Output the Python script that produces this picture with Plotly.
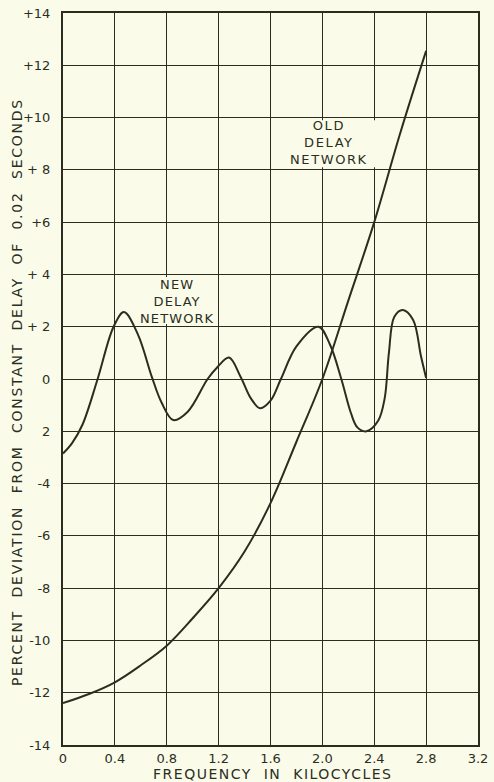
import plotly.graph_objects as go

# Old delay network (percent deviation vs frequency, kc)
old_freq = [0.0, 0.2, 0.4, 0.6, 0.8, 1.0, 1.2, 1.4, 1.6, 1.8, 2.0, 2.2, 2.4, 2.6, 2.8]
old_dev = [-12.4, -12.05, -11.6, -10.95, -10.2, -9.15, -8.0, -6.6, -4.75, -2.4, 0.0, 3.0, 6.0, 9.4, 12.55]

# New delay network
new_freq = [0.0, 0.07, 0.15, 0.267, 0.39, 0.47, 0.578, 0.685, 0.76, 0.85, 0.96,
            1.115, 1.19, 1.28, 1.37, 1.45, 1.52, 1.6, 1.68, 1.8, 1.97, 2.06, 2.146,
            2.22, 2.27, 2.34, 2.43, 2.48, 2.513, 2.555, 2.62, 2.70, 2.76, 2.8]
new_dev = [-2.85, -2.45, -1.75, 0.0, 2.0, 2.56, 1.7, 0.08, -0.9, -1.57, -1.26,
           0.0, 0.45, 0.82, 0.08, -0.75, -1.12, -0.83, 0.0, 1.25, 2.0, 1.3, 0.0,
           -1.3, -1.85, -2.0, -1.6, -0.75, 1.0, 2.38, 2.64, 2.26, 0.88, 0.04]

x_ticks = [0, 0.4, 0.8, 1.2, 1.6, 2.0, 2.4, 2.8, 3.2]
x_ticktext = ["0", "0.4", "0.8", "1.2", "1.6", "2.0", "2.4", "2.8", "3.2"]
y_ticks = [14, 12, 10, 8, 6, 4, 2, 0, -2, -4, -6, -8, -10, -12, -14]
y_ticktext = ["+14", "+12", "+10", "+ 8", "+6", "+ 4", "+ 2", "0", "2",
              "-4", "-6", "-8", "-10", "-12", "-14"]

new_label = "NEW<br>DELAY<br>NETWORK"
new_label_pos = (0.88, 2.95)
old_label = "OLD<br>DELAY<br>NETWORK"
old_label_pos = (2.05, 9.03)

PAPER = "#fafce9"
INK = "#2b2e1f"
FONT = "DejaVu Sans"

fig = go.Figure()

# paper-coloured boxes behind the labels (hide grid, not curves)
fig.add_shape(type="rect", x0=0.41, x1=1.19, y0=2.1, y1=3.9, layer="between",
              fillcolor=PAPER, line=dict(width=0))
fig.add_shape(type="rect", x0=1.66, x1=2.44, y0=8.1, y1=9.9, layer="between",
              fillcolor=PAPER, line=dict(width=0))

fig.add_trace(go.Scatter(x=old_freq, y=old_dev, mode="lines",
                         line=dict(color=INK, width=2, shape="spline", smoothing=1),
                         showlegend=False, hoverinfo="skip"))
fig.add_trace(go.Scatter(x=new_freq, y=new_dev, mode="lines",
                         line=dict(color=INK, width=2, shape="spline", smoothing=1),
                         showlegend=False, hoverinfo="skip"))

fig.add_annotation(x=new_label_pos[0], y=new_label_pos[1],
                   text='<span style="letter-spacing:1.1px">' + new_label + '</span>',
                   showarrow=False, align="center",
                   font=dict(family=FONT, size=13, color=INK))
fig.add_annotation(x=old_label_pos[0], y=old_label_pos[1],
                   text='<span style="letter-spacing:1.6px">' + old_label + '</span>',
                   showarrow=False, align="center",
                   font=dict(family=FONT, size=13, color=INK))

fig.add_annotation(xref="paper", yref="paper", x=-0.111, y=0.482,
                   xanchor="center", yanchor="middle",
                   text='<span style="letter-spacing:1.75px">PERCENT  DEVIATION  FROM  CONSTANT  DELAY  OF  0.02  SECONDS</span>',
                   textangle=-90, showarrow=False,
                   font=dict(family=FONT, size=14, color=INK))
fig.add_annotation(xref="paper", yref="paper", x=0.504, y=-0.039,
                   xanchor="center", yanchor="middle",
                   text='<span style="letter-spacing:1.5px">FREQUENCY  IN  KILOCYCLES</span>',
                   showarrow=False,
                   font=dict(family=FONT, size=14, color=INK))

fig.update_xaxes(range=[0, 3.2], tickvals=x_ticks, ticktext=x_ticktext,
                 showgrid=True, gridcolor=INK, gridwidth=1.3,
                 showline=True, linecolor=INK, linewidth=2, mirror=True,
                 zeroline=False, ticks="", ticklabelstandoff=0, automargin=False,
                 tickfont=dict(family=FONT, size=13, color=INK))
fig.update_yaxes(range=[-14, 14], tickvals=y_ticks, ticktext=y_ticktext,
                 showgrid=True, gridcolor=INK, gridwidth=1.3,
                 showline=True, linecolor=INK, linewidth=2, mirror=True,
                 zeroline=False, ticks="", ticklabelstandoff=8, automargin=False,
                 tickfont=dict(family=FONT, size=13, color=INK))

fig.update_layout(width=494, height=782,
                  margin=dict(l=63, r=16, t=13, b=37, autoexpand=False),
                  paper_bgcolor=PAPER, plot_bgcolor=PAPER,
                  font=dict(family=FONT, color=INK))

fig.write_html("out.html", config={"displayModeBar": False},
               post_script="document.body.style.margin='0';document.body.style.overflow='hidden';document.body.style.background='" + PAPER + "';")
